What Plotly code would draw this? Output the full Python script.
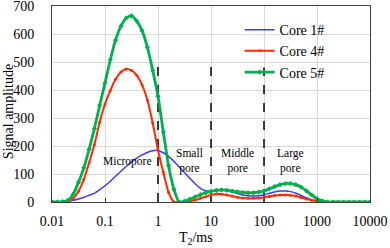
import math
import plotly.graph_objects as go

t2_ms = [0.01, 0.0126, 0.0158, 0.02, 0.0251, 0.0316, 0.0398, 0.0501, 0.0631, 0.0794,
         0.1, 0.126, 0.158, 0.2, 0.251, 0.316, 0.398, 0.501, 0.631, 0.794,
         1, 1.26, 1.58, 2, 2.51, 3.16, 3.98, 5.01, 6.31, 7.94,
         10, 12.6, 15.8, 20, 25.1, 31.6, 39.8, 50.1, 63.1, 79.4,
         100, 126, 158, 200, 251, 316, 398, 501, 631, 794,
         1000, 1259, 1585, 1995, 2512, 3162, 3981, 5012, 6310, 7943, 10000]

core1 = [0, 0, 1, 3, 6, 11, 17, 24, 31, 44,
         58, 74, 92, 110, 127, 143, 157, 168, 177, 183,
         184, 176, 163, 145, 125, 105, 85, 65, 49, 40,
         38, 41, 43, 41, 36, 30, 25, 22, 21, 22,
         26, 31, 36, 39, 39, 37, 31, 23, 15, 8,
         3, 0, 0, 0, 0, 0, 0, 0, 0, 0, 0]

core4 = [0, 0, 0, 2, 12, 38, 80, 140, 205, 285,
         350, 398, 438, 464, 475, 470, 452, 418, 364, 282,
         186, 105, 35, 0, 0, 1, 3, 7, 13, 19,
         25, 29, 28, 25, 21, 17, 14, 13, 13, 14,
         17, 20, 23, 25, 25, 24, 21, 16, 11, 6,
         3, 1, 0, 0, 0, 0, 0, 0, 0, 0, 0]

core5 = [0, 0, 1, 6, 28, 70, 122, 188, 262, 345,
         425, 508, 578, 628, 657, 665, 646, 612, 552, 470,
         378, 250, 130, 45, 0, 3, 10, 18, 26, 33,
         38, 42, 43, 42, 39, 36, 34, 33, 33, 35,
         40, 47, 55, 62, 66, 66, 62, 53, 40, 25,
         12, 4, 0, 0, 0, 0, 0, 0, 0, 0, 0]

series_names = ["Core 1#", "Core 4#", "Core 5#"]
x_tick_vals = [0.01, 0.1, 1, 10, 100, 1000, 10000]
x_tick_text = ["0.01", "0.1", "1", "10", "100", "1000", "10000"]
y_tick_vals = [0, 100, 200, 300, 400, 500, 600, 700]
boundaries = [1, 10, 100]
boundary_top = [500, 485, 480]
region_labels = ["Micropore", "Small<br>pore", "Middle<br>pore", "Large<br>pore"]
region_label_x = [0.27, 4.0, 32, 310]
region_label_y = [143, 148, 148, 148]

serif = "Liberation Serif"
fig = go.Figure()

for xb, top in zip(boundaries, boundary_top):
    fig.add_trace(go.Scatter(x=[xb, xb], y=[0, top], mode="lines",
                             line=dict(color="black", width=1.5, dash="dash"),
                             showlegend=False, hoverinfo="skip"))

fig.add_trace(go.Scatter(x=t2_ms, y=core1, name=series_names[0], mode="lines",
                         line=dict(color="#3c3cf0", width=1.5, shape="spline", smoothing=0.6)))
fig.add_trace(go.Scatter(x=t2_ms, y=core4, name=series_names[1], mode="lines+markers",
                         line=dict(color="#ff2a00", width=2, shape="spline", smoothing=0.6),
                         marker=dict(color="#ff2a00", size=3, symbol="circle")))
fig.add_trace(go.Scatter(x=t2_ms, y=core5, name=series_names[2], mode="lines+markers",
                         line=dict(color="#00b050", width=2.8, shape="spline", smoothing=0.6),
                         marker=dict(color="#00b050", size=4, symbol="diamond")))

for txt, xv, yv in zip(region_labels, region_label_x, region_label_y):
    fig.add_annotation(x=math.log10(xv), y=yv, xref="x", yref="y", text=txt,
                       showarrow=False, font=dict(family=serif, size=11.5, color="black"))

fig.add_annotation(x=0.453, y=-0.133, xref="paper", yref="paper", yanchor="top",
                   text="T<sub>2</sub>/ms", showarrow=False,
                   font=dict(family=serif, size=14, color="black"))
fig.add_annotation(x=-0.138, y=0.459, xref="paper", yref="paper", textangle=-90,
                   xanchor="center", yanchor="middle",
                   text="Signal amplitude", showarrow=False,
                   font=dict(family=serif, size=14, color="black"))

fig.update_layout(
    width=390, height=248,
    margin=dict(l=52, r=20, t=6, b=46, autoexpand=False),
    paper_bgcolor="white", plot_bgcolor="white",
    font=dict(family=serif, size=14, color="black"),
    legend=dict(x=0.59, y=0.959, xanchor="left", yanchor="top",
                bgcolor="rgba(0,0,0,0)", font=dict(family=serif, size=14),
                itemwidth=30, tracegroupgap=0),
    xaxis=dict(type="log", range=[-2, 4], tickvals=x_tick_vals, ticktext=x_tick_text,
               showgrid=True, gridcolor="#d9d9d9", gridwidth=1,
               showline=True, linecolor="#404040", linewidth=1, mirror=True,
               ticks="inside", ticklen=4, tickcolor="#404040", zeroline=False,
               ticklabelstandoff=6, automargin=False, ticklabeloverflow="allow"),
    yaxis=dict(range=[0, 700], tickvals=y_tick_vals, showgrid=True, gridcolor="#d9d9d9", gridwidth=1,
               showline=True, linecolor="#404040", linewidth=1, mirror=True,
               ticks="", zeroline=False, ticklabelstandoff=14, automargin=False,
               ticklabeloverflow="allow"),
)

fig.write_html("out.html", config={"displayModeBar": False},
               post_script="document.body.style.margin='0';document.body.style.padding='0';")
